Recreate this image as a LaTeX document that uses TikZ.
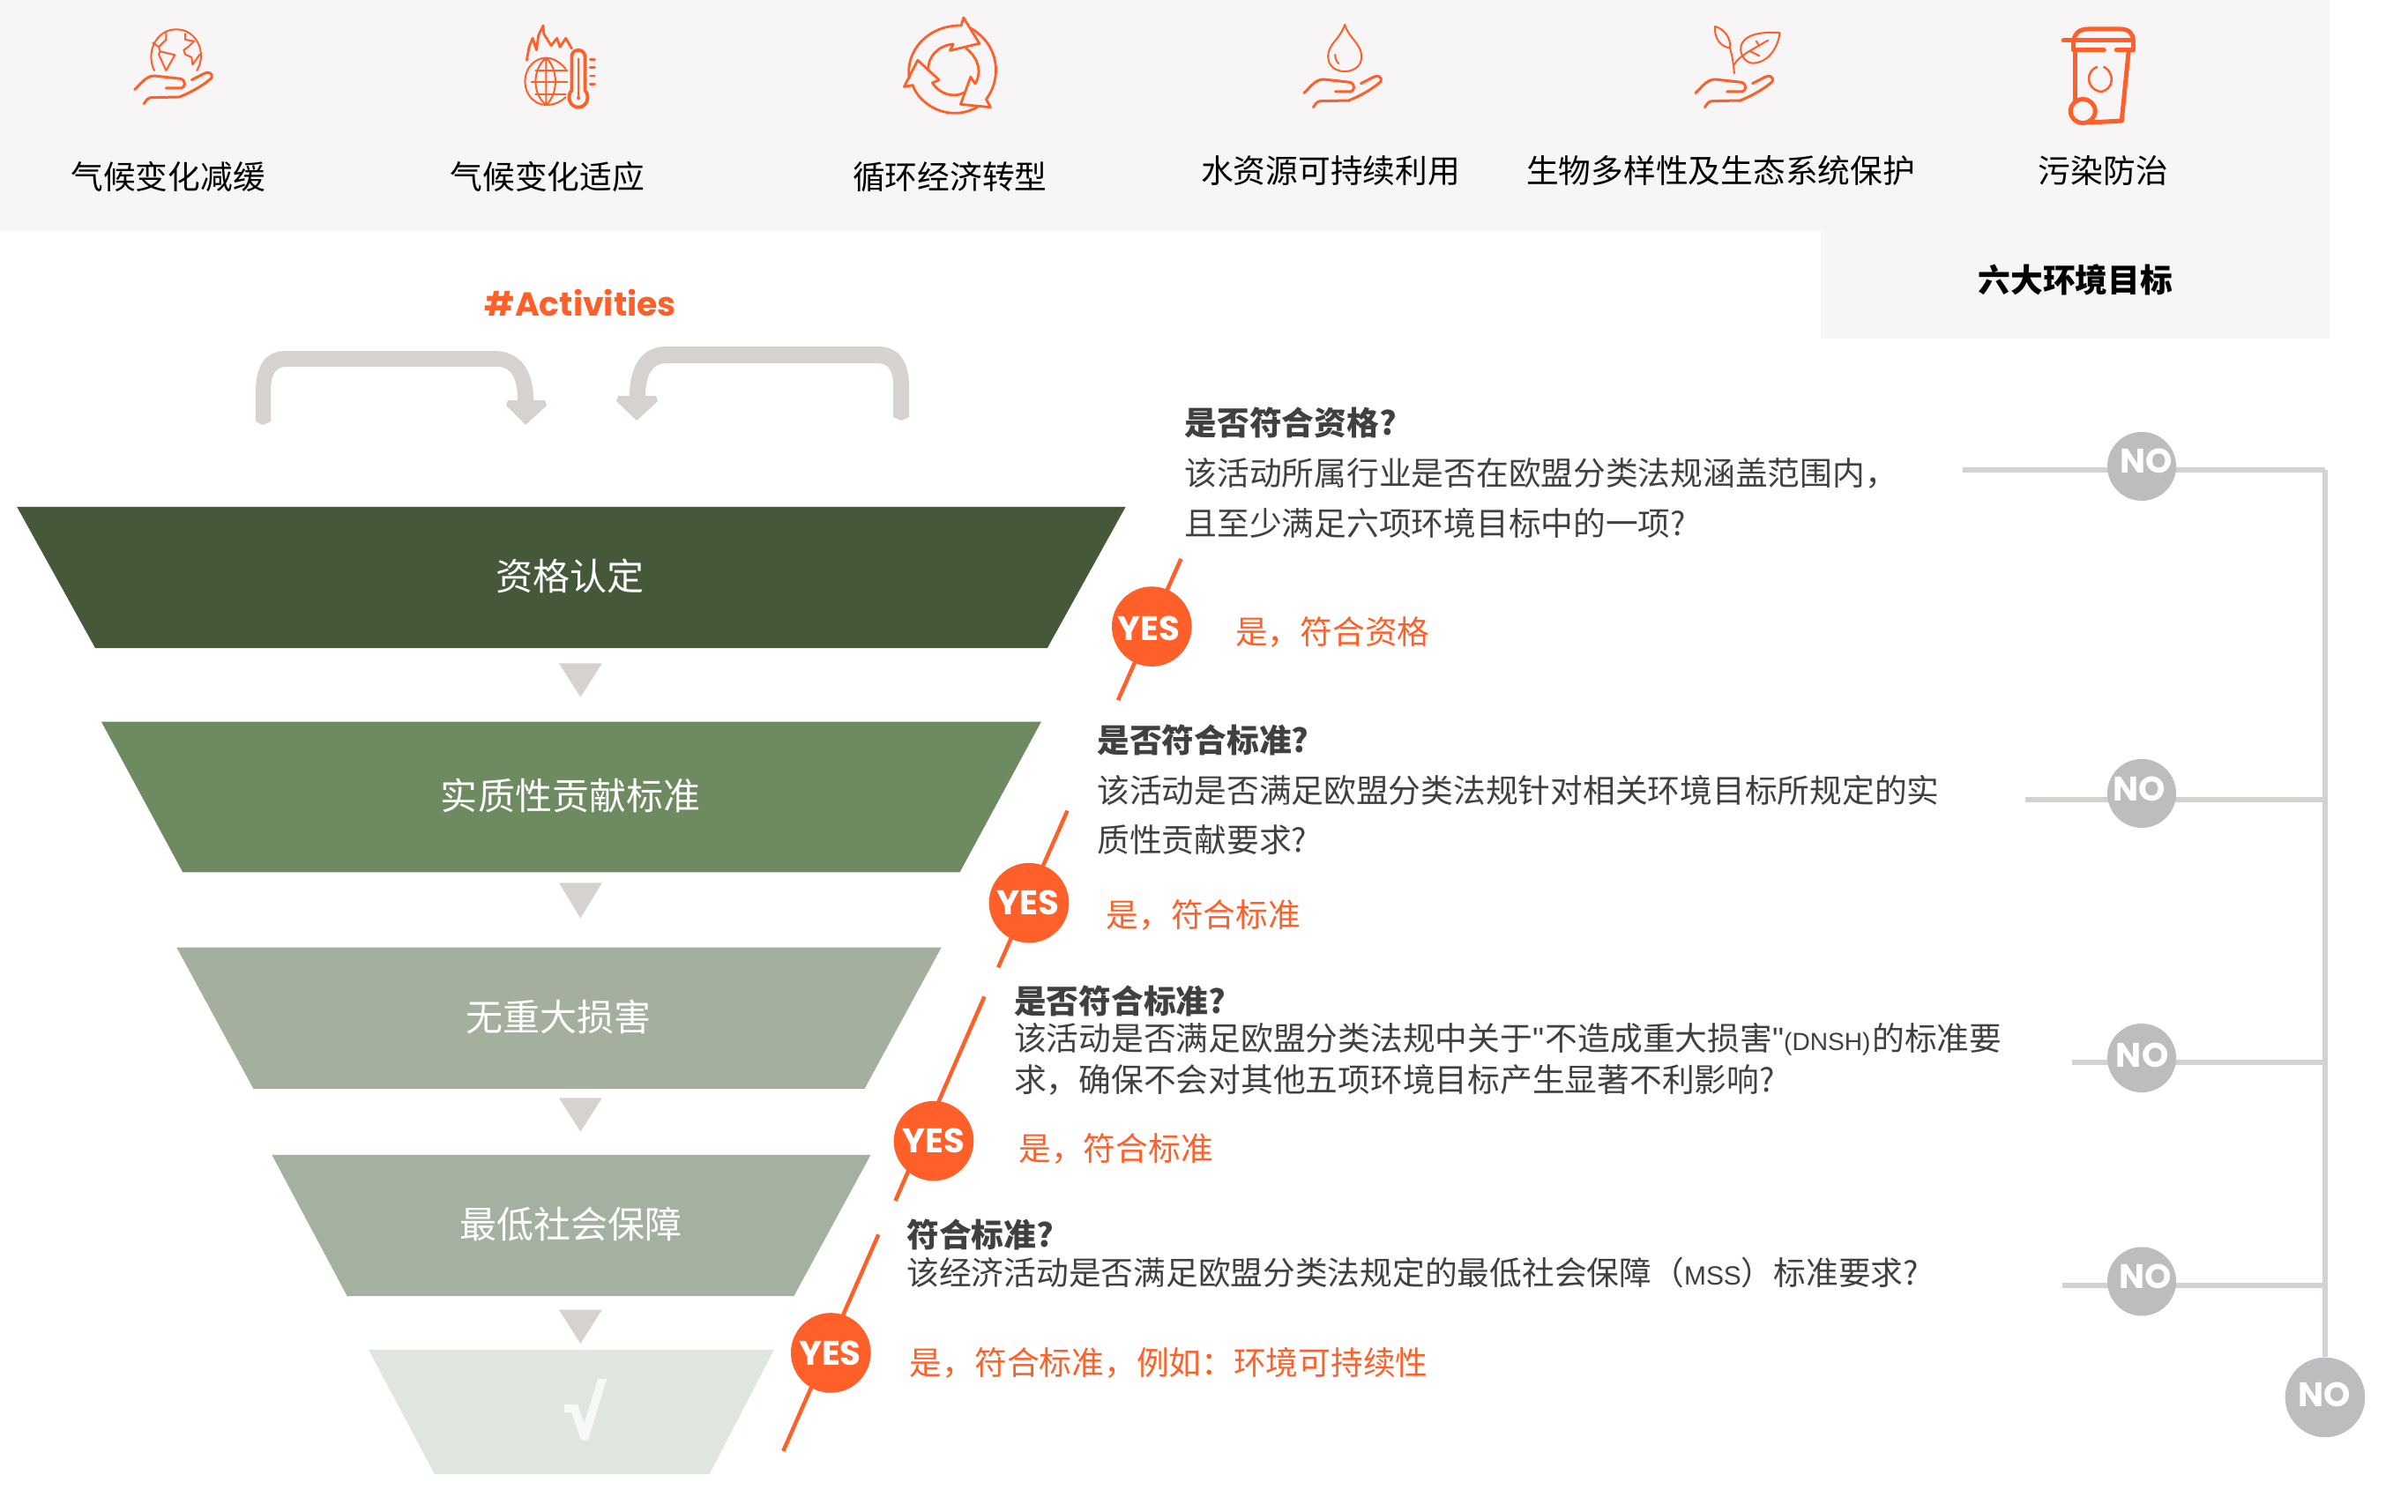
\documentclass[tikz,border=0pt]{standalone}
\usepackage{fontspec}
\usetikzlibrary{calc}
\setmainfont{Noto Sans CJK SC}
\newfontfamily\popfont{Poppins}[BoldFont={Poppins Bold}]
\newfontfamily\chkfont{Liberation Sans}[FakeBold=6]
\newfontfamily\latn{Liberation Sans}
\definecolor{bandgrey}{HTML}{F7F5F5}
\definecolor{orng}{HTML}{FF6029}
\definecolor{arrowgrey}{HTML}{D6D2CF}
\definecolor{linegrey}{HTML}{D2D2CE}
\definecolor{nogrey}{HTML}{BDBCBE}
\definecolor{ink}{HTML}{404040}
\definecolor{fa}{HTML}{45583A}
\definecolor{fb}{HTML}{6E8A61}
\definecolor{fc}{HTML}{A4B09D}
\definecolor{fd}{HTML}{A5B1A0}
\definecolor{fe}{HTML}{DFE6DF}
\tikzset{
  toplabel/.style={font=\fontsize{10.45}{12}\selectfont,text=black,inner sep=0pt},
  funneltext/.style={font=\fontsize{11.95}{14}\selectfont,text=white,inner sep=0pt},
  qtitle/.style={anchor=west,font=\fontsize{10.45}{12}\selectfont\bfseries,text=ink,inner sep=0pt},
  qbody/.style={anchor=west,font=\fontsize{10.45}{12}\selectfont,text=ink,inner sep=0pt},
  yestext/.style={anchor=west,font=\fontsize{10.45}{12}\selectfont,text=orng,inner sep=0pt},
  yesdot/.style={circle,fill=orng,minimum size=52*0.17417mm,inner sep=0pt},
  nodot/.style={circle,fill=nogrey,minimum size=44.8*0.17417mm,inner sep=0pt},
  nobig/.style={circle,fill=nogrey,minimum size=52*0.17417mm,inner sep=0pt},
  dottext/.style={inner sep=0pt,text=white,font=\fontsize{11}{12}\selectfont\popfont\bfseries},
  yesline/.style={draw=orng,line width=0.45mm},
  noline/.style={draw=linegrey,line width=0.6mm},
  icon/.style={draw=orng,line width=0.2mm,line cap=round,line join=round},
  iconm/.style={draw=orng,line width=0.28mm,line cap=round,line join=round},
  iconb/.style={draw=orng,line width=0.5mm,line cap=round,line join=round},
  tri/.style={fill=arrowgrey},
}
\newcommand{\handicon}[2]{%
  \begin{scope}[shift={(#1,#2)},scale=0.33333]
    \draw[iconm,line width=0.3mm] (100,293) .. controls (106,284) and (112,272) .. (125,272) -- (220,270) .. controls (260,255) and (310,225) .. (330,205) .. controls (335,190) and (320,182) .. (305,190) -- (262,212);
    \draw[iconm,line width=0.3mm] (68,245) .. controls (85,230) and (105,198) .. (135,198) -- (225,208) .. controls (245,215) and (240,240) .. (225,240) -- (175,240);
  \end{scope}}
\begin{document}
\begin{tikzpicture}[x=0.017417cm,y=-0.017417cm]
\useasboundingbox (0,0) rectangle (1568,984.1);
% bands
\fill[bandgrey] (0,0) rectangle (1517,150.5);
\fill[bandgrey] (1185.5,150) rectangle (1517,220.5);
% top labels
\node[toplabel] (t1) at (109.5,115) {气候变化减缓};
\node[toplabel] (t2) at (356.5,115) {气候变化适应};
\node[toplabel] (t3) at (618.5,115) {循环经济转型};
\node[toplabel] (t4) at (866.5,111) {水资源可持续利用};
\node[toplabel] (t5) at (1120.5,111) {生物多样性及生态系统保护};
\node[toplabel] (t6) at (1369.5,111) {污染防治};
\node[toplabel,font=\fontsize{10.45}{12}\selectfont\bfseries] (goal) at (1351.5,182.5) {六大环境目标};
\node[inner sep=0pt,text=orng,font=\fontsize{10.75}{13}\selectfont\popfont\bfseries] (act) at (378,197.5) {\#Activities};
% icons (drawn in reference pixels)
\begin{scope}[scale=0.5742]
  % icon 1: globe on hand
  \begin{scope}[shift={(130,20)},scale=0.33333]
    \draw[icon] (135,180) .. controls (105,120) and (140,40) .. (210,40) .. controls (280,40) and (315,120) .. (280,180);
    \draw[icon] (175,48) -- (175,75) -- (150,100) -- (130,85);
    \draw[icon] (150,100) -- (155,115) -- (205,127) -- (175,180) -- (150,125) -- (155,115);
    \draw[icon] (240,55) -- (240,75) -- (270,80) -- (250,100) -- (235,110) -- (240,125) -- (262,135) -- (265,160) -- (290,125);
  \end{scope}
  \handicon{130}{20}
  % icon 2: flame, globe, thermometer
  \begin{scope}[shift={(580,15)},scale=0.33333]
    \draw[icon] (185,190) .. controls (160,160) and (135,152) .. (118,152) .. controls (78,152) and (46,188) .. (46,232) .. controls (46,276) and (78,312) .. (118,312) .. controls (140,312) and (165,305) .. (185,285);
    \draw[icon] (118,152) .. controls (70,190) and (70,275) .. (118,312) .. controls (160,275) and (160,190) .. (118,152) (118,152) -- (118,312);
    \draw[icon] (82,195) -- (190,195) (68,235) -- (190,235) (82,277) -- (185,277);
    \draw[iconm] (52,160) -- (60,115) -- (72,85) -- (85,125) -- (92,75) -- (108,42) -- (110,70) -- (135,110) -- (155,85) -- (165,115) -- (185,85) -- (205,120);
    \draw[iconb,line width=0.38mm] (205,148) .. controls (205,118) and (250,118) .. (250,148) -- (250,262) .. controls (270,285) and (255,320) .. (228,320) .. controls (200,320) and (185,285) .. (205,262) -- cycle;
    \draw[icon] (228,155) -- (228,285);
    \fill[orng] (228,288) circle (6);
    \draw[iconm] (268,157) -- (283,157) (268,185) -- (283,185) (268,213) -- (283,213) (268,241) -- (283,241);
  \end{scope}
  % icon 3: recycling ring
  \begin{scope}[shift={(1000,0)},scale=0.33333]
    \draw[iconm] (93,265) .. controls (80,170) and (160,85) .. (270,87) -- (278,60) -- (332,148) -- (232,172) -- (243,150) .. controls (190,155) and (155,195) .. (158,240);
    \draw[iconm] (105,290) -- (76,295) -- (122,205) -- (195,272) -- (172,282) .. controls (195,320) and (245,335) .. (280,315);
    \draw[iconm] (105,290) .. controls (125,350) and (220,420) .. (325,365);
    \draw[iconm] (288,165) .. controls (335,205) and (338,250) .. (318,285) -- (302,262) -- (268,355) -- (370,365) -- (355,338) .. controls (410,265) and (400,150) .. (300,95);
  \end{scope}
  % icon 4: water drop on hand
  \draw[icon] (1525,28) .. controls (1530,44) and (1544,50) .. (1544,64) .. controls (1544,76) and (1534,81) .. (1525,81) .. controls (1516,81) and (1506,76) .. (1506,64) .. controls (1506,50) and (1520,44) .. (1525,28) -- cycle;
  \draw[icon] (1514,62) .. controls (1514,66) and (1516,70) .. (1518,72);
  \handicon{1456}{24}
  % icon 5: sprout on hand
  \begin{scope}[shift={(1900,15)},scale=0.33333]
    \draw[icon] (135,45) .. controls (170,55) and (190,90) .. (185,118) .. controls (155,115) and (130,85) .. (135,45) -- cycle;
    \draw[icon] (185,118) .. controls (195,150) and (198,180) .. (200,205);
    \draw[icon] (200,175) .. controls (215,145) and (260,125) .. (315,92);
    \draw[icon] (355,67) .. controls (350,110) and (320,170) .. (260,170) .. controls (230,165) and (215,130) .. (225,105) .. controls (240,70) and (300,62) .. (355,67) -- cycle;
    \draw[icon] (275,95) -- (285,112) (255,130) -- (285,145);
  \end{scope}
  \handicon{1900}{24}
  % icon 6: bin
  \draw[iconb] (2340,46) -- (2419,46);
  \draw[iconb] (2352,46) .. controls (2352,38) and (2358,33) .. (2368,33) -- (2405,33) .. controls (2414,33) and (2419,38) .. (2419,46) -- (2419,57);
  \draw[iconb] (2351,46) -- (2351,57) -- (2386,57) (2400,57) -- (2419,57);
  \draw[iconb] (2353,57) -- (2353,113);
  \draw[iconb] (2414,57) -- (2406,137) -- (2370,139);
  \draw[iconb] (2362,126) ellipse (14 and 13.5);
  \draw[icon,line width=0.25mm] (2378,76) .. controls (2366,80) and (2364,100) .. (2382,104) .. controls (2398,102) and (2398,82) .. (2386,76);
\end{scope}
% loop arrows
\begin{scope}[scale=0.5742]
  \fill[arrowgrey] (290,478) -- (290,445) .. controls (290,415) and (300,398) .. (325,398) -- (560,398) .. controls (590,398) and (605,420) .. (605,454) -- (618,454) -- (620,460) -- (596,482) -- (574,460) -- (576,454) -- (587,454) .. controls (587,430) and (580,416) .. (565,416) -- (325,416) .. controls (312,416) and (307,425) .. (307,445) -- (307,478) -- (298,482) -- cycle;
  \fill[arrowgrey] (1031,473) -- (1031,440) .. controls (1031,410) and (1020,393) .. (995,393) -- (755,393) .. controls (728,393) and (714,415) .. (714,449) -- (701,449) -- (699,455) -- (722,477) -- (746,455) -- (744,449) -- (732,449) .. controls (732,425) and (740,412) .. (755,412) -- (995,412) .. controls (1008,412) and (1013,420) .. (1013,440) -- (1013,473) -- (1022,477) -- cycle;
\end{scope}
% funnel
\fill[fa] (11,330) -- (733,330) -- (682,422) -- (62,422) -- cycle;
\fill[fb] (66,470) -- (678,470) -- (625,568) -- (119,568) -- cycle;
\fill[fc] (115,617) -- (613,617) -- (563,709) -- (165,709) -- cycle;
\fill[fd] (177,752) -- (567,752) -- (517,844) -- (226,844) -- cycle;
\fill[fe] (240,879) -- (504,879) -- (462,960) -- (283,960) -- cycle;
\node[funneltext] (f1) at (371,375) {资格认定};
\node[funneltext] (f2) at (371.5,518) {实质性贡献标准};
\node[funneltext] (f3) at (363.5,662) {无重大损害};
\node[funneltext] (f4) at (371.5,797) {最低社会保障};
\node[inner sep=0pt,text=white!75!fe,font=\fontsize{23}{26}\selectfont\chkfont] (f5) at (380.5,918) {√};
% triangles
\fill[tri] (364,432) -- (392,432) -- (378,454) -- cycle;
\fill[tri] (364,575) -- (392,575) -- (378,598) -- cycle;
\fill[tri] (364,715) -- (392,715) -- (378,737) -- cycle;
\fill[tri] (364,853) -- (392,853) -- (378,875) -- cycle;
% yes connectors
\coordinate (ya1) at (769,364); \coordinate (yb1) at (728,456);
\coordinate (ya2) at (695,528); \coordinate (yb2) at (650,630);
\coordinate (ya3) at (641,649); \coordinate (yb3) at (583,782);
\coordinate (ya4) at (572,804); \coordinate (yb4) at (510,945);
\draw[yesline] (ya1) -- (yb1);
\draw[yesline] (ya2) -- (yb2);
\draw[yesline] (ya3) -- (yb3);
\draw[yesline] (ya4) -- (yb4);
\node[yesdot] (y1) at (750,408) {};
\node[yesdot] (y2) at (670,588) {};
\node[yesdot] (y3) at (608,743) {};
\node[yesdot] (y4) at (541,881) {};
\node[dottext] (y1t) at (748,409.5) {YES};
\node[dottext] (y2t) at (669.5,588) {YES};
\node[dottext] (y3t) at (608,743) {YES};
\node[dottext] (y4t) at (540.5,881) {YES};
% no connectors
\coordinate (ns1) at (1278,306); \coordinate (nj1) at (1514,306);
\coordinate (ns2) at (1319,521); \coordinate (nj2) at (1514,521);
\coordinate (ns3) at (1349,692); \coordinate (nj3) at (1514,692);
\coordinate (ns4) at (1343,837); \coordinate (nj4) at (1514,837);
\node[nobig] (n5) at (1514,910) {};
\draw[noline] (ns1) -- (nj1);
\draw[noline] (ns2) -- (nj2);
\draw[noline] (ns3) -- (nj3);
\draw[noline] (ns4) -- (nj4);
\draw[noline] (nj1) -- (n5);
\node[nodot] (n1) at (1394.6,303.7) {};
\node[nodot] (n2) at (1394.6,516.7) {};
\node[nodot] (n3) at (1394.6,689) {};
\node[nodot] (n4) at (1394.6,834.5) {};
\node[dottext] (n1t) at (1397.5,300) {NO};
\node[dottext] (n2t) at (1393,514) {NO};
\node[dottext] (n3t) at (1395,687) {NO};
\node[dottext] (n4t) at (1397,831) {NO};
\node[dottext] (n5t) at (1513.5,908.5) {NO};
% question blocks
\node[qtitle] (q1) at (771,275) {是否符合资格?};
\node[qbody] (q1a) at (771,308) {该活动所属行业是否在欧盟分类法规涵盖范围内，};
\node[qbody] (q1b) at (771,341) {且至少满足六项环境目标中的一项?};
\node[yestext] (r1) at (804,411.5) {是，符合资格};
\node[qtitle] (q2) at (714,482) {是否符合标准?};
\node[qbody] (q2a) at (714,515) {该活动是否满足欧盟分类法规针对相关环境目标所规定的实};
\node[qbody] (q2b) at (714,547) {质性贡献要求?};
\node[yestext] (r2) at (720,596) {是，符合标准};
\node[qtitle] (q3) at (660,652) {是否符合标准?};
\node[qbody] (q3a) at (660,677) {该活动是否满足欧盟分类法规中关于{\latn"}\kern0.5pt 不造成重大损害{\latn"}{\fontsize{8}{10}\latn(DNSH)}\kern0.5pt 的标准要};
\node[qbody] (q3b) at (660,703) {求，确保不会对其他五项环境目标产生显著不利影响?};
\node[yestext] (r3) at (663,748) {是，符合标准};
\node[qtitle] (q4) at (590,804) {符合标准?};
\node[qbody] (q4a) at (590,829) {该经济活动是否满足欧盟分类法规定的最低社会保障（{\fontsize{8.5}{10}\latn MSS}）标准要求?};
\node[yestext] (r4) at (592,887.5) {是，符合标准，例如：环境可持续性};
\end{tikzpicture}
\end{document}
